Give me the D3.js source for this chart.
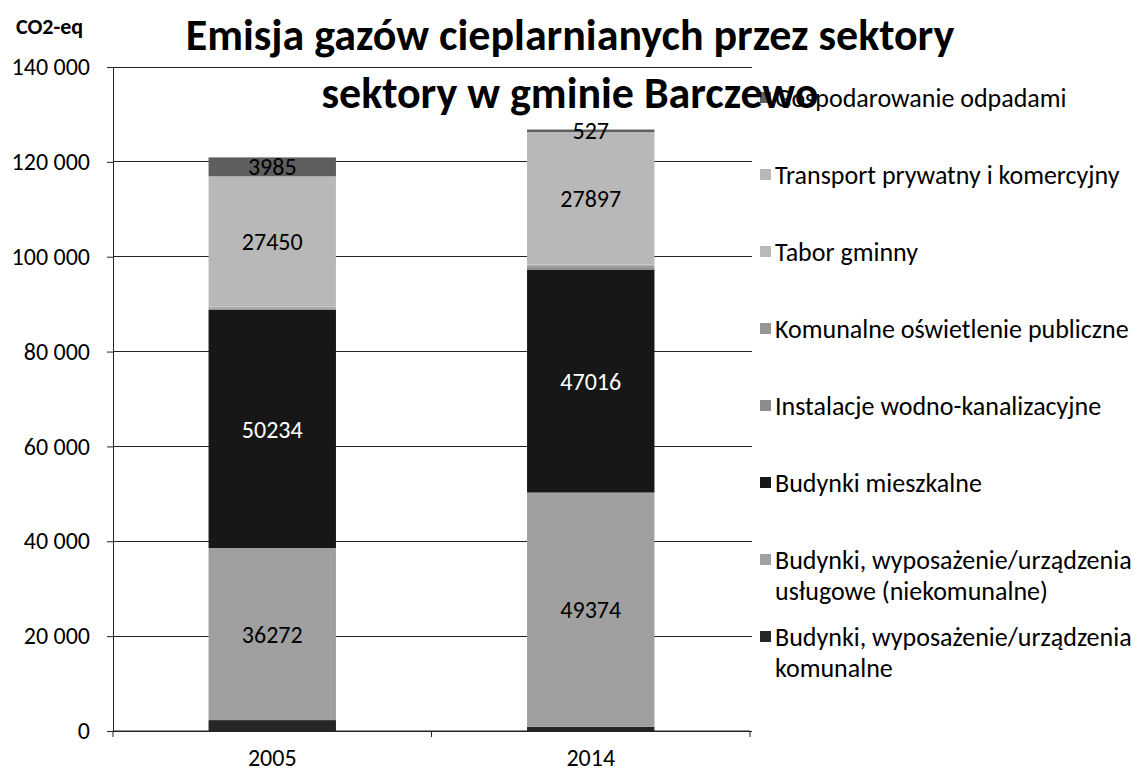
<!DOCTYPE html>
<html>
<head>
<meta charset="utf-8">
<script src="https://cdn.jsdelivr.net/npm/d3@7"></script>
<style>
  body { margin: 0; background: #fff; }
  svg { display: block; }
</style>
</head>
<body>
<div id="chart"></div>
<script>
// Emisja gazów cieplarnianych – stacked bars, 2005 vs 2014

const years = ['2005', '2014'];

// stacking order, bottom to top
const sectors = [
    'Budynki, wyposażenie/urządzenia komunalne',
    'Budynki, wyposażenie/urządzenia usługowe (niekomunalne)',
    'Budynki mieszkalne',
    'Instalacje wodno-kanalizacyjne',
    'Komunalne oświetlenie publiczne',
    'Tabor gminny',
    'Transport prywatny i komercyjny',
    'Gospodarowanie odpadami'
];

const values2005 = [2300, 36272, 50234, 300, 250, 150, 27450, 3985];
const values2014 = [900, 49374, 47016, 500, 400, 200, 27897, 527];

const sectorColors = ['#262626', '#a0a0a0', '#171717', '#8c8c8c', '#969696', '#b9b9b9', '#b8b8b8', '#5e5e5e'];
const labelColors  = ['#000', '#000', '#fff', '#000', '#000', '#000', '#000', '#000'];
const labeledSectors = [
    'Budynki, wyposażenie/urządzenia usługowe (niekomunalne)',
    'Budynki mieszkalne',
    'Transport prywatny i komercyjny',
    'Gospodarowanie odpadami'
];

const yTicks = [0, 20000, 40000, 60000, 80000, 100000, 120000, 140000];
const titleLines = ['Emisja gazów cieplarnianych przez sektory', 'sektory w gminie Barczewo'];
const unitLabel = 'CO2-eq';

const W = 1134, H = 777;
const font = 'Carlito, Calibri, Lato, sans-serif';
const plot = { left: 113, right: 750, top: 67, bottom: 731 };

const svg = d3.select('#chart').append('svg')
    .attr('width', W)
    .attr('height', H)
    .style('font-family', font);

const x = d3.scaleBand()
    .domain(years)
    .range([plot.left, plot.right])
    .paddingInner(0.6)
    .paddingOuter(0.3);

const y = d3.scaleLinear()
    .domain([0, 140000])
    .range([plot.bottom, plot.top]);

const pl = d3.formatLocale({ decimal: ',', thousands: ' ', grouping: [3], currency: ['', ''] });
const fmt = pl.format(',d');

// gridlines
svg.append('g')
    .selectAll('line')
    .data(yTicks)
    .join('line')
    .attr('x1', plot.left)
    .attr('x2', plot.right + 2)
    .attr('y1', d => y(d))
    .attr('y2', d => y(d))
    .attr('stroke', '#222')
    .attr('stroke-width', 1)
    .attr('shape-rendering', 'crispEdges');

// stack data
const rows = years.map((yr, i) => {
    const src = i === 0 ? values2005 : values2014;
    const row = { year: yr };
    sectors.forEach((s, j) => { row[s] = src[j]; });
    return row;
});
const series = d3.stack().keys(sectors)(rows);

const layer = svg.append('g')
    .selectAll('g')
    .data(series)
    .join('g')
    .attr('fill', (d, i) => sectorColors[i]);

layer.selectAll('rect')
    .data(d => d)
    .join('rect')
    .attr('x', d => x(d.data.year))
    .attr('width', x.bandwidth())
    .attr('y', d => y(d[1]))
    .attr('height', d => y(d[0]) - y(d[1]));

// data labels
series.forEach((s, i) => {
    if (!labeledSectors.includes(s.key)) return;
    svg.append('g')
        .selectAll('text')
        .data(s)
        .join('text')
        .attr('x', d => x(d.data.year) + x.bandwidth() / 2)
        .attr('y', d => (y(d[0]) + y(d[1])) / 2)
        .attr('dy', '0.36em')
        .attr('text-anchor', 'middle')
        .attr('font-size', '24px')
        .attr('fill', labelColors[i])
        .text(d => d[1] - d[0]);
});

// y axis
const yAxis = svg.append('g')
    .attr('transform', `translate(${plot.left},0)`)
    .call(d3.axisLeft(y).tickValues(yTicks).tickFormat(fmt).tickSize(6).tickSizeOuter(0).tickPadding(17));
yAxis.select('.domain').attr('stroke', '#222');
yAxis.selectAll('.tick line').attr('stroke', '#222');
yAxis.selectAll('.tick text')
    .attr('font-size', '24px')
    .attr('font-family', font)
    .attr('fill', '#000');

// x axis
const xAxis = svg.append('g')
    .attr('transform', `translate(0,${plot.bottom})`)
    .call(d3.axisBottom(x).tickSize(0).tickPadding(18));
xAxis.select('.domain').remove();
xAxis.selectAll('.tick text')
    .attr('font-size', '24px')
    .attr('font-family', font)
    .attr('fill', '#000');
xAxis.append('line')
    .attr('x1', plot.left)
    .attr('x2', plot.right)
    .attr('stroke', '#222');
xAxis.selectAll('.bound')
    .data(d3.range(years.length + 1))
    .join('line')
    .attr('class', 'bound')
    .attr('x1', i => plot.left + i * x.step())
    .attr('x2', i => plot.left + i * x.step())
    .attr('y1', 0)
    .attr('y2', 6)
    .attr('stroke', '#222');

// unit label
svg.append('text')
    .attr('x', 16)
    .attr('y', 34)
    .attr('font-size', '22px')
    .attr('font-weight', 'bold')
    .text(unitLabel);

// legend (reverse of stack order)
const legendX = 760;
const textX = 15;
const legend = svg.append('g');
const legendItems = sectors.map((s, i) => ({ name: s, color: sectorColors[i] })).reverse();

legendItems.forEach((d, i) => {
    const cy = 98 + i * 77;
    const g = legend.append('g').attr('transform', `translate(${legendX},${cy})`);
    g.append('rect')
        .attr('x', 0)
        .attr('y', -6)
        .attr('width', 11)
        .attr('height', 11)
        .attr('fill', d.color);
    const t = g.append('text')
        .attr('x', textX)
        .attr('font-size', '26px')
        .attr('fill', '#000');
    // simple word wrap
    const words = d.name.split(' ');
    let line = [], lines = [];
    const probe = t.append('tspan');
    words.forEach(w => {
        probe.text([...line, w].join(' '));
        if (probe.node().getComputedTextLength() > W - legendX - textX && line.length) {
            lines.push(line.join(' '));
            line = [w];
        } else {
            line.push(w);
        }
    });
    lines.push(line.join(' '));
    probe.remove();
    lines.forEach((l, k) => {
        t.append('tspan')
            .attr('x', textX)
            .attr('y', k * 31)
            .attr('dy', '0.35em')
            .text(l);
    });
});

// title
svg.append('g')
    .selectAll('text')
    .data(titleLines)
    .join('text')
    .attr('x', 570)
    .attr('y', (d, i) => 50 + i * 58)
    .attr('text-anchor', 'middle')
    .attr('font-size', '44px')
    .attr('font-weight', 'bold')
    .attr('fill', '#000')
    .text(d => d);
</script>
</body>
</html>
